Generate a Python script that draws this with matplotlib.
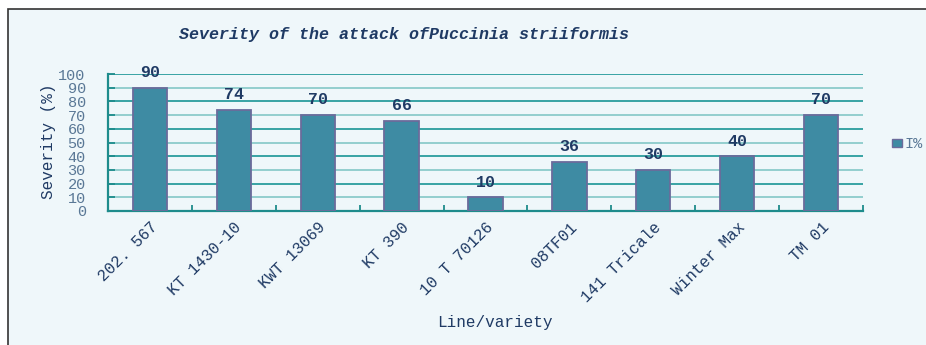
import matplotlib
matplotlib.use("Agg")
import matplotlib.pyplot as plt
from matplotlib.patches import Rectangle
import numpy as np

categories = ["202. 567", "KT 1430-10", "KWT 13069", "KT 390", "10 T 70126",
              "08TF01", "141 Tricale", "Winter Max", "TM 01"]
values = [90, 74, 70, 66, 10, 36, 30, 40, 70]
yticks = list(range(0, 101, 10))
series_name = "I%"

title = "Severity of the attack ofPuccinia striiformis"
ylabel = "Severity (%)"
xlabel = "Line/variety"

W, H = 926, 345
fig = plt.figure(figsize=(W / 100, H / 100), dpi=100)
fig.patch.set_facecolor("white")

bg = "#EFF7FA"
fig.patches.append(Rectangle((8 / W, -0.1), 1.2, (H - 9) / H + 0.1,
                             transform=fig.transFigure, facecolor=bg,
                             edgecolor="#333333", linewidth=1.2, zorder=-10))

font = "Liberation Mono"
navy = "#1F3A64"
tickc = "#5A7896"
teal = "#1E8C8C"
barc = "#3E8BA3"
edgec = "#6B6B9B"

ax = fig.add_axes([108 / W, (H - 211) / H, (863 - 108) / W, (211 - 74) / H])
ax.set_facecolor("none")

x = np.arange(len(categories))
ax.set_xlim(-0.5, len(categories) - 0.5)
ax.set_ylim(0, 100)

for v in yticks[1:]:
    col = "#2A9D9D" if (v // 10) % 2 == 0 else "#8CCBCB"
    ax.axhline(v, color=col, lw=1.3, zorder=0)

ax.bar(x, values, width=0.41, color=barc, edgecolor=edgec,
       linewidth=1.3, zorder=3, label=series_name)

for xi, v in zip(x, values):
    ax.annotate(str(v), (xi, v), xytext=(0, 5.5), textcoords="offset points",
                ha="center", va="bottom", fontsize=12, fontweight="bold",
                family=font, color=navy)

for s in ["top", "right"]:
    ax.spines[s].set_visible(False)
for s in ["left", "bottom"]:
    ax.spines[s].set_color(teal)
    ax.spines[s].set_linewidth(1.6)

ax.set_yticks(yticks)
ax.set_yticklabels([str(t) for t in yticks], family=font, fontsize=11, color=tickc)
ax.tick_params(axis="y", direction="in", length=5, color=teal, width=1.3, pad=16)

ax.set_xticks(x)
ax.set_xticklabels(categories, family=font, fontsize=11.5, color=navy,
                   rotation=45, ha="right", va="top", rotation_mode="anchor")
ax.tick_params(axis="x", which="major", length=0, pad=6)
ax.set_xticks(np.arange(-0.5, len(categories), 1.0), minor=True)
ax.tick_params(axis="x", which="minor", direction="in", length=4, color=teal, width=1.3)

fig.text(404 / W, 1 - 34 / H, title, ha="center", va="center", fontsize=12,
         style="italic", fontweight="bold", family=font, color=navy)
fig.text(48 / W, 1 - 141 / H, ylabel, ha="center", va="center", rotation=90,
         fontsize=11.5, family=font, color=navy)
fig.text(495 / W, 1 - 323 / H, xlabel, ha="center", va="center",
         fontsize=11.5, family=font, color=navy)

# legend
fig.patches.append(Rectangle((892 / W, 1 - 147 / H), 10 / W, 8 / H,
                             transform=fig.transFigure, facecolor=barc,
                             edgecolor=edgec, linewidth=1.0))
fig.text(904 / W, 1 - 143.5 / H, series_name, ha="left", va="center",
         fontsize=11, family=font, color=tickc)

fig.savefig("out.png", dpi=100, facecolor="white")
